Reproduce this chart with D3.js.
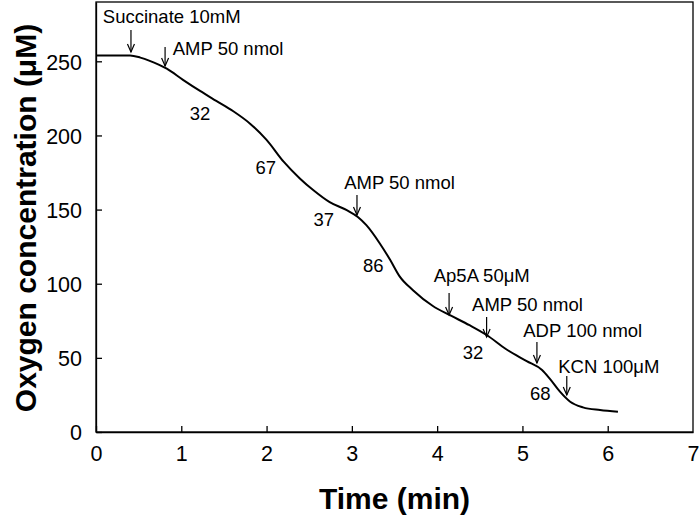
<!DOCTYPE html>
<html>
<head>
<meta charset="utf-8">
<script src="https://cdn.jsdelivr.net/npm/d3@7"></script>
<style>
  html, body { margin: 0; padding: 0; background: #fff; }
  svg { display: block; }
</style>
</head>
<body>
<svg id="chart" width="700" height="521"></svg>
<script>
// ---- Data ----
const timeMin = [0, 0.4, 0.52, 0.63, 0.83, 1.02, 1.22, 1.41, 1.61, 1.81, 2.0, 2.2, 2.39, 2.55, 2.74, 2.94, 3.07, 3.17, 3.33, 3.45, 3.56, 3.72, 3.95, 4.15, 4.38, 4.58, 4.81, 5.05, 5.23, 5.32, 5.44, 5.56, 5.71, 5.91, 6.12];
const oxygen  = [254, 254, 252.5, 250.3, 245, 237.5, 230, 223.3, 216.3, 207.8, 197, 182.3, 171, 163, 155, 149.6, 145, 139.5, 127, 116, 105, 95.5, 85, 78.8, 72, 65.4, 55.8, 47.8, 41.8, 36, 27.2, 20.4, 16.6, 14.8, 13.7];

const xTicks = [0, 1, 2, 3, 4, 5, 6, 7];
const yTicks = [0, 50, 100, 150, 200, 250];

// Additions: arrow time, arrow top/bottom value, label start time, label baseline value
const addLabels  = ["Succinate 10mM", "AMP 50 nmol", "AMP 50 nmol", "Ap5A 50\u03BCM", "AMP 50 nmol", "ADP 100 nmol", "KCN 100\u03BCM"];
const addTime    = [0.41, 0.81, 3.06, 4.14, 4.58, 5.17, 5.52];
const addTop     = [271.1, 259.6, 159.8, 93.7, 77.6, 60.7, 37.8];
const addTip     = [256.3, 246.8, 146.3, 78.9, 64.1, 46.5, 24.9];
const addTextT   = [0.08, 0.90, 2.91, 3.96, 4.41, 5.01, 5.42];
const addTextV   = [275.8, 254.2, 163.9, 101.2, 81.6, 64.1, 39.8];

// Respiration rates
const rateLabels = ["32", "67", "37", "86", "32", "68"];
const rateTime   = [1.22, 1.99, 2.67, 3.25, 4.42, 5.21];
const rateValue  = [215.1, 178.7, 143.6, 112.6, 54, 26.3];

// ---- Layout ----
const W = 700, H = 521;
const margin = {left: 96, right: 7, top: 2, bottom: 89};
const svg = d3.select("#chart");
const x = d3.scaleLinear().domain([0, 7]).range([margin.left, W - margin.right]);
const y = d3.scaleLinear().domain([0, 290]).range([H - margin.bottom, margin.top]);
const font = "'Liberation Sans', Arial, Helvetica, sans-serif";

// Frame
svg.append("rect")
  .attr("x", x(0)).attr("y", y(290))
  .attr("width", x(7) - x(0)).attr("height", y(0) - y(290))
  .attr("fill", "none").attr("stroke", "#000").attr("stroke-width", 1.3);

// Axes
const xAxis = d3.axisBottom(x).tickValues(xTicks).tickFormat(d3.format("d")).tickSizeInner(-6).tickSizeOuter(0).tickPadding(14);
const gx = svg.append("g").attr("transform", `translate(0,${y(0)})`).call(xAxis);
const yAxis = d3.axisLeft(y).tickValues(yTicks).tickFormat(d3.format("d")).tickSizeInner(-6).tickSizeOuter(0).tickPadding(14);
const gy = svg.append("g").attr("transform", `translate(${x(0)},0)`).call(yAxis);
[gx, gy].forEach(g => {
  g.select(".domain").attr("stroke", "#000").attr("stroke-width", 1.3);
  g.selectAll(".tick line").attr("stroke", "#000").attr("stroke-width", 1.3);
  g.selectAll(".tick text").attr("font-family", font).attr("font-size", 21.5).attr("fill", "#000");
});
gx.selectAll(".tick").filter(d => d === 7).select("line").remove();
gy.selectAll(".tick text").attr("dy", "0.36em");

// Axis titles
svg.append("text")
  .attr("x", (x(0) + x(7)) / 2).attr("y", 509)
  .attr("text-anchor", "middle")
  .attr("font-family", font).attr("font-weight", "bold").attr("font-size", 30)
  .text("Time (min)");
svg.append("text")
  .attr("transform", `translate(36,${(y(0) + y(290)) / 2 + 1}) rotate(-90)`)
  .attr("text-anchor", "middle")
  .attr("font-family", font).attr("font-weight", "bold").attr("font-size", 30)
  .text("Oxygen concentration (\u03BCM)");

// Trace
const pts = timeMin.map((t, i) => [t, oxygen[i]]);
svg.append("path")
  .datum(pts)
  .attr("fill", "none").attr("stroke", "#000").attr("stroke-width", 2)
  .attr("stroke-linejoin", "round")
  .attr("d", d3.line().x(d => x(d[0])).y(d => y(d[1])).curve(d3.curveMonotoneX));

// Additions (arrows + labels)
const adds = addLabels.map((s, i) => ({s, t: addTime[i], top: addTop[i], tip: addTip[i], tt: addTextT[i], tv: addTextV[i]}));
const ga = svg.append("g");
adds.forEach(a => {
  const ax = x(a.t), ay1 = y(a.top), ay2 = y(a.tip);
  ga.append("line").attr("x1", ax).attr("x2", ax).attr("y1", ay1).attr("y2", ay2)
    .attr("stroke", "#000").attr("stroke-width", 1.2);
  ga.append("path").attr("d", `M${ax - 3.5},${ay2 - 8} L${ax},${ay2} L${ax + 3.5},${ay2 - 8}`)
    .attr("fill", "none").attr("stroke", "#000").attr("stroke-width", 1.2);
  ga.append("text").attr("x", x(a.tt)).attr("y", y(a.tv))
    .attr("font-family", font).attr("font-size", 18.5).attr("fill", "#000")
    .text(a.s);
});

// Rate labels
rateLabels.forEach((s, i) => {
  svg.append("text").attr("x", x(rateTime[i])).attr("y", y(rateValue[i]))
    .attr("text-anchor", "middle").attr("dy", "0.36em")
    .attr("font-family", font).attr("font-size", 18.5).attr("fill", "#000")
    .text(s);
});
</script>
</body>
</html>
